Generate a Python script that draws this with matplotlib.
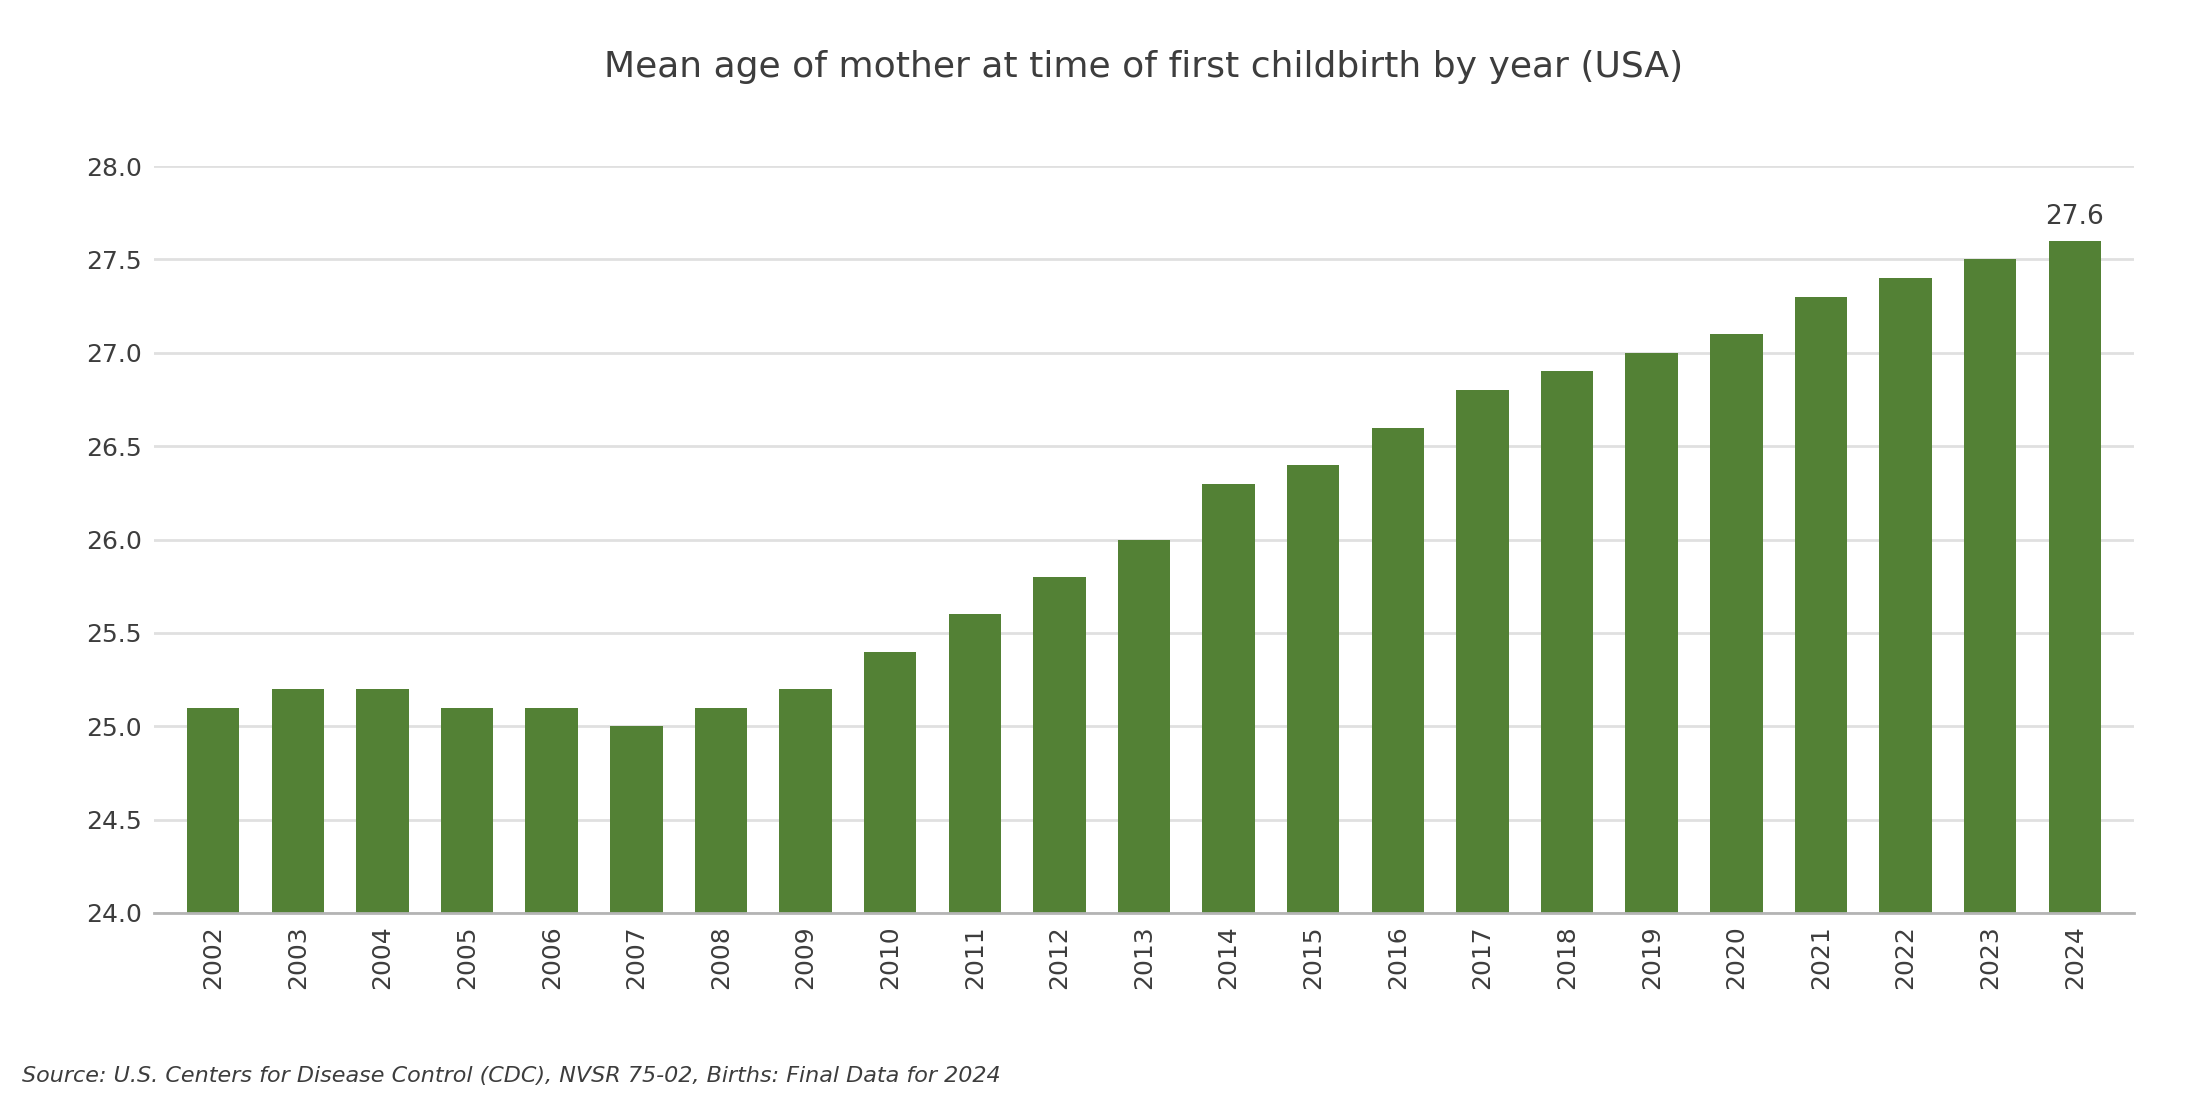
import matplotlib
matplotlib.use("Agg")
import matplotlib.pyplot as plt

# mean age of mother at first birth
years = ["2002", "2003", "2004", "2005", "2006", "2007", "2008", "2009",
         "2010", "2011", "2012", "2013", "2014", "2015", "2016", "2017",
         "2018", "2019", "2020", "2021", "2022", "2023", "2024"]
mean_age = [25.1, 25.2, 25.2, 25.1, 25.1, 25.0, 25.1, 25.2,
            25.4, 25.6, 25.8, 26.0, 26.3, 26.4, 26.6, 26.8,
            26.9, 27.0, 27.1, 27.3, 27.4, 27.5, 27.6]
y_ticks = [24.0, 24.5, 25.0, 25.5, 26.0, 26.5, 27.0, 27.5, 28.0]

title = "Mean age of mother at time of first childbirth by year (USA)"
source = "Source: U.S. Centers for Disease Control (CDC), NVSR 75-02, Births: Final Data for 2024"

text_col = "#3d3d3d"
bar_col = "#538135"

plt.rcParams['font.family'] = ['DejaVu Sans']

fig = plt.figure(figsize=(22, 11), dpi=100)
ax = fig.add_axes([0.07, 0.17, 0.90, 0.679])

x = list(range(len(years)))
ax.bar(x, mean_age, width=0.62, color=bar_col, zorder=3)

ax.set_xlim(-0.7, len(years) - 0.3)
ax.set_ylim(24.0, 28.0)
ax.set_yticks(y_ticks)
ax.set_yticklabels([f"{v:.1f}" for v in y_ticks])
ax.set_xticks(x)
ax.set_xticklabels(years, rotation=90)

ax.tick_params(axis="y", length=0, pad=9, labelsize=18, labelcolor=text_col)
ax.tick_params(axis="x", length=0, pad=9, labelsize=18, labelcolor=text_col)

ax.grid(axis="y", color="#e0e0e0", linewidth=2, zorder=0)
ax.grid(axis="x", visible=False)
for side in ["top", "right", "left"]:
    ax.spines[side].set_visible(False)
ax.spines["bottom"].set_color("#b4b4b4")
ax.spines["bottom"].set_linewidth(2)
ax.spines["bottom"].set_zorder(4)

# label only the latest bar
ax.annotate(f"{mean_age[-1]:.1f}", xy=(x[-1], mean_age[-1]),
            xytext=(0, 8), textcoords="offset points",
            ha="center", va="bottom", fontsize=19, color=text_col)

fig.text(0.52, 0.939, title, ha="center", va="center", fontsize=26, color=text_col)
fig.text(0.01, 0.016, source, ha="left", va="baseline", fontsize=16,
         style="italic", color=text_col)

fig.savefig("out.png", dpi=100)
